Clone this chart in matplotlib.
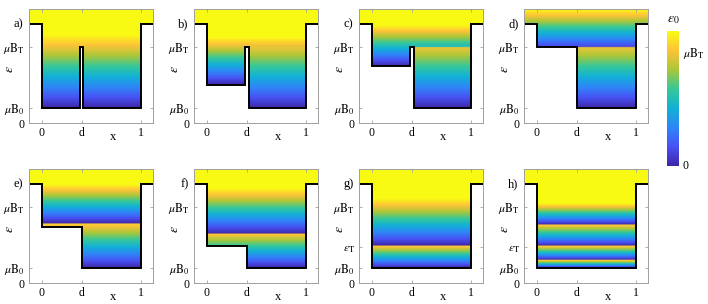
import numpy as np
import matplotlib
matplotlib.use("Agg")
import matplotlib.pyplot as plt
import matplotlib.transforms as mtransforms
from matplotlib.colors import LinearSegmentedColormap
from matplotlib.patches import Polygon

plt.rcParams["font.family"] = ["Liberation Serif", "DejaVu Serif"]
plt.rcParams["mathtext.fontset"] = "stix"

# energy levels, in units of the axis height (0 at the bottom of a panel)
mu_b0 = 0.132
mu_bt = 0.667
eps_t = 0.316
vac = 0.868     # rim of the well
d = 0.4

panel_names = ["a)", "b)", "c)", "d)", "e)", "f)", "g)", "h)"]
left_floor = [0.132, 0.333, 0.500, 0.667, 0.491, 0.325, 0.132, 0.132]
right_floor = [0.132, 0.132, 0.132, 0.132, 0.132, 0.132, 0.132, 0.132]
barrier_top = [0.667, 0.667, 0.667, None, None, None, None, None]
barrier_w = [0.032, 0.042, 0.042, 0, 0, 0, 0, 0]
with_eps_t = [False, False, False, False, False, False, True, True]

# colour layers: (x from, y from, y to, level where colour = 0, level where colour = 1)
layers = [
    [(-1, 0.0, 1.1, 0.132, 0.777)],
    [(-1, 0.0, 1.1, 0.333, 0.754), (d, 0.0, 0.667, 0.132, 0.777)],
    [(-1, 0.0, 1.1, 0.500, 0.860), (d, 0.0, 0.667, 0.132, 0.777)],
    [(-1, 0.0, 1.1, 0.632, 1.000), (d, 0.0, 0.667, 0.132, 0.777)],
    [(-1, 0.0, 0.518, 0.132, 0.561), (-1, 0.518, 1.1, 0.518, 0.860)],
    [(-1, 0.0, 0.430, 0.132, 0.472), (-1, 0.430, 1.1, 0.430, 0.825)],
    [(-1, 0.0, 0.325, 0.132, 0.348), (-1, 0.325, 1.1, 0.325, 0.737)],
    [(-1, 0.0, 0.202, 0.132, 0.204), (-1, 0.202, 0.325, 0.202, 0.336),
     (-1, 0.325, 0.509, 0.325, 0.531), (-1, 0.509, 1.1, 0.509, 0.693)],
]

# parula
parula = LinearSegmentedColormap.from_list("parula", [
    (0.2422, 0.1504, 0.6603), (0.2810, 0.3228, 0.9579),
    (0.1786, 0.5289, 0.9682), (0.0689, 0.6948, 0.8394),
    (0.2161, 0.7843, 0.5923), (0.6720, 0.7793, 0.2227),
    (0.9970, 0.7659, 0.2199), (0.9769, 0.9839, 0.0805)])

fig = plt.figure(figsize=(7.08, 3.04), dpi=100)
W, H = 708, 304
col_left = [29, 194, 359, 524]
row_top = [9, 169]

xs = np.linspace(-0.2, 1.2, 700)
ys = np.linspace(0, 1, 900)
X, Y = np.meshgrid(xs, ys)

for i in range(8):
    r, c = divmod(i, 4)
    ax = fig.add_axes([col_left[c] / W, 1 - (row_top[r] + 114) / H, 124 / W, 114 / H])

    val = np.ones_like(X)
    for x0, y0, y1, z, f in layers[i]:
        m = (X >= x0) & (Y >= y0) & (Y < y1)
        val[m] = np.clip((Y[m] - z) / (f - z), 0, 1)

    lf, rf = left_floor[i], right_floor[i]
    if barrier_top[i] is not None:
        bx0, bx1 = d - barrier_w[i] / 2, d + barrier_w[i] / 2
        outline = [(-0.3, vac), (0, vac), (0, lf), (bx0, lf), (bx0, barrier_top[i]),
                   (bx1, barrier_top[i]), (bx1, rf), (1, rf), (1, vac), (1.3, vac)]
    else:
        outline = [(-0.3, vac), (0, vac), (0, lf), (d, lf), (d, rf),
                   (1, rf), (1, vac), (1.3, vac)]

    clip = Polygon([(-0.3, 1.2)] + outline + [(1.3, 1.2)], closed=True,
                   transform=ax.transData, facecolor="none", edgecolor="none")
    ax.add_patch(clip)
    im = ax.imshow(val, extent=[xs[0], xs[-1], ys[0], ys[-1]], origin="lower",
                   cmap=parula, vmin=0, vmax=1, aspect="auto", interpolation="bilinear")
    im.set_clip_path(clip)
    ox, oy = zip(*outline)
    ax.plot(ox, oy, color="k", lw=1.4, solid_joinstyle="miter")

    ax.set_xlim(-0.131, 1.121)
    ax.set_ylim(0, 1)
    ax.set_xticks([0, d, 1])
    ax.set_xticklabels(["0", "d", "1"])
    yt = [0, mu_b0, mu_bt]
    yl = ["0", r"$\mu\mathrm{B}_\mathrm{0}$", r"$\mu\mathrm{B}_\mathrm{T}$"]
    if with_eps_t[i]:
        yt.insert(2, eps_t)
        yl.insert(2, r"$\epsilon_\mathrm{T}$")
    ax.set_yticks(yt)
    ax.set_yticklabels(yl)
    ax.tick_params(direction="in", top=True, right=True, length=2.5, width=0.6,
                   color="#a0a0a0", labelsize=8.5, pad=3)
    for s in ax.spines.values():
        s.set_color("#a0a0a0")
        s.set_linewidth(0.7)

    ax.text(0.68, -0.125, "x", transform=ax.transAxes, ha="center", va="center", fontsize=9)
    ax.text(-0.155, 0.47, r"$\epsilon$", transform=ax.transAxes, ha="center", va="center",
            rotation=90, fontsize=10)
    tr = mtransforms.blended_transform_factory(ax.transAxes, ax.transData)
    ax.text(-0.045, vac, panel_names[i], transform=tr, ha="right", va="center", fontsize=9)

# colour bar
cax = fig.add_axes([667 / W, 1 - 166 / H, 12 / W, 135 / H])
grad = np.linspace(0, 1, 256)[:, None]
cax.imshow(grad, extent=[0, 1, 0, 1], origin="lower", cmap=parula, aspect="auto")
cax.set_xticks([])
cax.set_yticks([])
for s in cax.spines.values():
    s.set_visible(False)
cax.text(0.5, 1.04, r"$\epsilon_0$", transform=cax.transAxes, ha="center", va="bottom", fontsize=10)
cax.text(1.3, 0.83, r"$\mu\mathrm{B}_\mathrm{T}$", transform=cax.transAxes, ha="left",
         va="center", fontsize=8.5)
cax.text(1.3, 0.0, "0", transform=cax.transAxes, ha="left", va="center", fontsize=8.5)

fig.savefig("out.png", dpi=100)
